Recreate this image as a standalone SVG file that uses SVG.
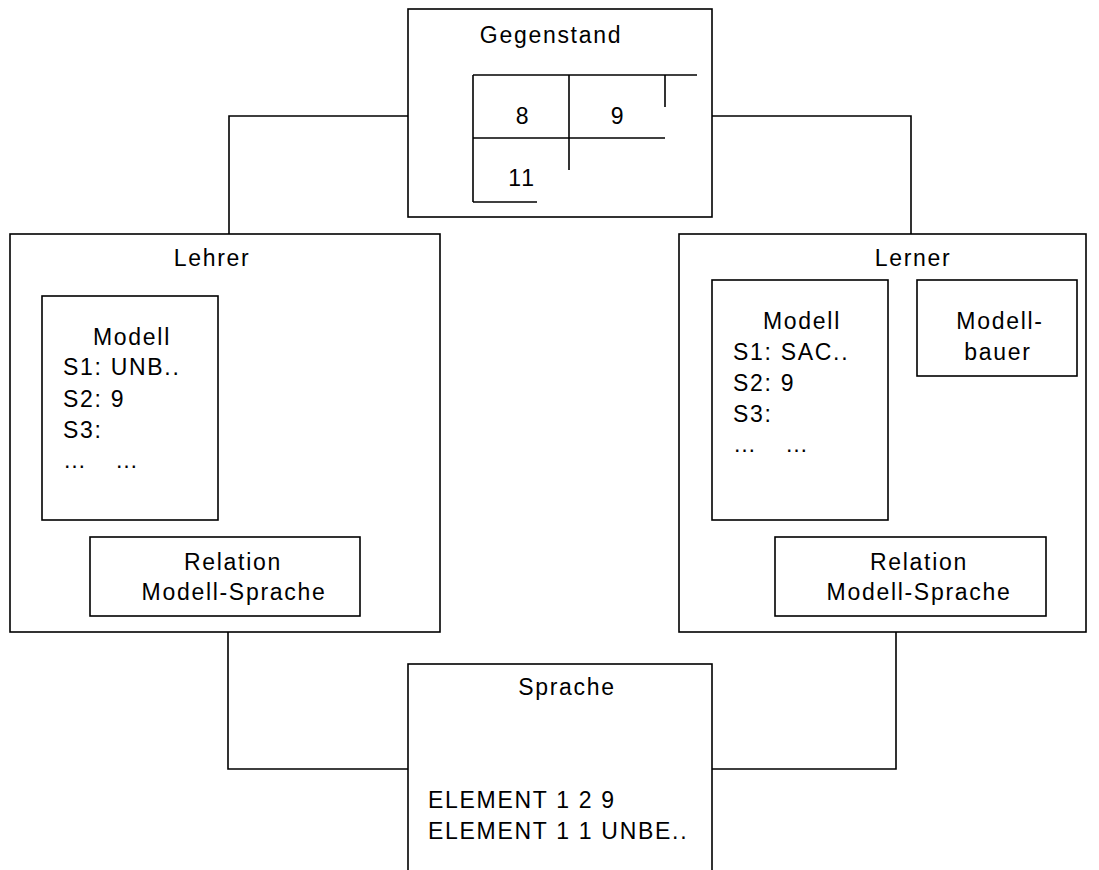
<svg xmlns="http://www.w3.org/2000/svg" width="1099" height="870" viewBox="0 0 1099 870">
<style>
rect,line,polyline{fill:none;stroke:#000;stroke-width:1.6}
rect{fill:#fff}
text{font-family:"Liberation Sans",Arial,sans-serif;font-size:23px;letter-spacing:1.7px;fill:#000}
.c{text-anchor:middle}
</style>
<rect x="0" y="0" width="1099" height="870" style="stroke:none"/>
<g id="connectors">
<polyline points="408,116 229,116 229,234"/>
<polyline points="712,116 911,116 911,234"/>
<polyline points="228,632 228,769 408,769"/>
<polyline points="896,632 896,769 712,769"/>
</g>
<g id="gegenstand">
<rect x="408" y="9" width="304" height="208"/>
<text class="c" x="551" y="43">Gegenstand</text>
<line x1="473" y1="75" x2="697" y2="75"/>
<line x1="473" y1="75" x2="473" y2="202"/>
<line x1="473" y1="202" x2="537" y2="202"/>
<line x1="569" y1="75" x2="569" y2="170"/>
<line x1="473" y1="138" x2="665" y2="138"/>
<line x1="665" y1="75" x2="665" y2="107"/>
<text class="c" x="523" y="124">8</text>
<text class="c" x="618" y="124">9</text>
<text class="c" x="522" y="186">11</text>
</g>
<g id="lehrer">
<rect x="10" y="234" width="430" height="398"/>
<text class="c" x="212" y="266">Lehrer</text>
</g>
<g id="lehrer-modell">
<rect x="42" y="296" width="176" height="224"/>
<text class="c" x="132" y="345">Modell</text>
<text x="63" y="375">S1: UNB..</text>
<text x="63" y="407">S2: 9</text>
<text x="63" y="438">S3:</text>
<text x="63" y="468">…</text>
<text x="115" y="468">…</text>
</g>
<g id="lehrer-relation">
<rect x="90" y="537" width="270" height="79"/>
<text class="c" x="233" y="570">Relation</text>
<text class="c" x="234" y="600">Modell-Sprache</text>
</g>
<g id="lerner">
<rect x="679" y="234" width="407" height="398"/>
<text class="c" x="913" y="266">Lerner</text>
</g>
<g id="lerner-modell">
<rect x="712" y="280" width="176" height="240"/>
<text class="c" x="802" y="329">Modell</text>
<text x="733" y="360">S1: SAC..</text>
<text x="733" y="391">S2: 9</text>
<text x="733" y="422">S3:</text>
<text x="733" y="452">…</text>
<text x="785" y="452">…</text>
</g>
<g id="modellbauer">
<rect x="917" y="280" width="160" height="96"/>
<text class="c" x="1000" y="329">Modell-</text>
<text class="c" x="998" y="360">bauer</text>
</g>
<g id="lerner-relation">
<rect x="775" y="537" width="271" height="79"/>
<text class="c" x="919" y="570">Relation</text>
<text class="c" x="919" y="600">Modell-Sprache</text>
</g>
<g id="sprache">
<rect x="408" y="664" width="304" height="220"/>
<text class="c" x="567" y="695">Sprache</text>
<text x="428" y="808">ELEMENT 1 2 9</text>
<text x="428" y="839">ELEMENT 1 1 UNBE..</text>
</g>
</svg>
